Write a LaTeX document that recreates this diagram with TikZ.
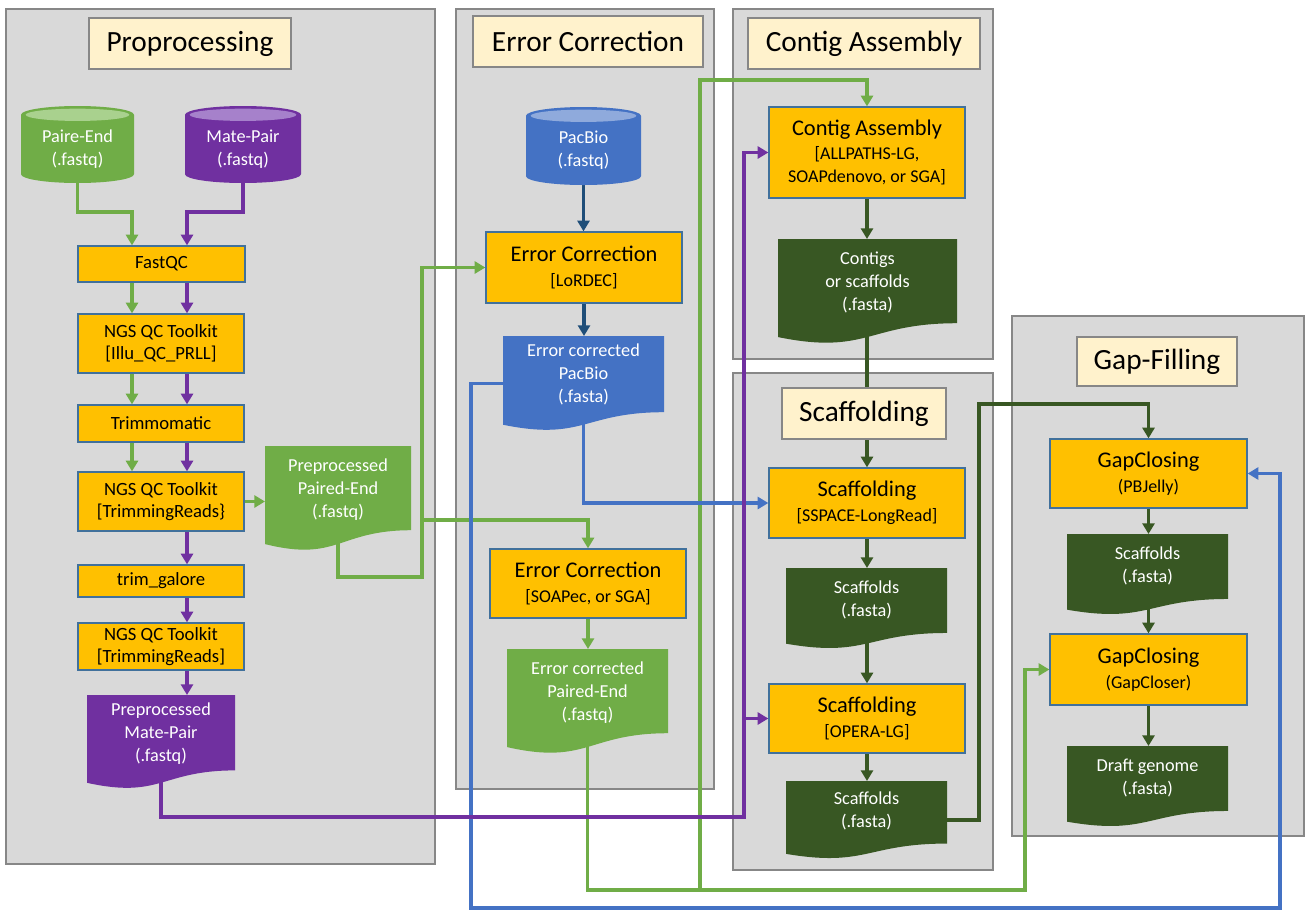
\documentclass[tikz,border=0pt]{standalone}
\usepackage{fontspec}
\setmainfont{Carlito}
\usetikzlibrary{arrows.meta,calc}
\definecolor{panelgray}{HTML}{D9D9D9}
\definecolor{panelline}{HTML}{878787}
\definecolor{titlefill}{HTML}{FFF2CC}
\definecolor{procfill}{HTML}{FFC000}
\definecolor{procline}{HTML}{41719C}
\definecolor{cgreen}{HTML}{70AD47}
\definecolor{cgreenl}{HTML}{A9D18E}
\definecolor{cpurple}{HTML}{7030A0}
\definecolor{cpurplel}{HTML}{A681CB}
\definecolor{cblue}{HTML}{4472C4}
\definecolor{cbluel}{HTML}{8FAADC}
\definecolor{cdblue}{HTML}{1F4E79}
\definecolor{cdgreen}{HTML}{385723}
\pgfdeclarelayer{panels}
\pgfdeclarelayer{wires}
\pgfdeclarelayer{shapes}
\pgfsetlayers{panels,wires,shapes,main}
\newcommand\docfill[2]{\fill[#2] let \p1=(#1.south west), \p2=(#1.north east) in
  (\x1,\y2) -- (\x2,\y2) -- (\x2,{(\y2)-0.802*((\y2)-(\y1))})
  .. controls ({0.5*((\x1)+(\x2))},{(\y2)-0.802*((\y2)-(\y1))}) and ({0.5*((\x1)+(\x2))},{(\y2)-1.1075*((\y2)-(\y1))})
  .. (\x1,{(\y2)-0.934*((\y2)-(\y1))}) -- cycle;}
\newcommand\cylfill[3]{\fill[#2] let \p1=(#1.south west), \p2=(#1.north east) in
  (\x1,{(\y2)-6.6pt}) -- (\x1,{(\y1)+6.6pt})
  arc[start angle=180,end angle=360,x radius={0.5*((\x2)-(\x1))},y radius=6.6pt]
  -- (\x2,{(\y2)-6.6pt})
  arc[start angle=0,end angle=180,x radius={0.5*((\x2)-(\x1))},y radius=6.6pt] -- cycle;
  \fill[#3] let \p1=(#1.south west), \p2=(#1.north east) in
  ({0.5*((\x1)+(\x2))},{(\y2)-6.6pt}) ellipse[x radius={0.5*((\x2)-(\x1))-3.5pt},y radius=4.6pt];}
\newcommand\LgTxt[1]{{\fontsize{16.8}{19}\selectfont #1}}
\begin{document}
\begin{tikzpicture}[x=0.75pt,y=-0.75pt,
  sz/.style 2 args={minimum width=#1*0.75pt,minimum height=#2*0.75pt},
  ttl/.style={fill=titlefill,draw=panelline,line width=1.5pt,inner sep=0pt,font=\fontsize{22}{26}\selectfont},
  proc/.style={fill=procfill,draw=procline,line width=1pt,inner sep=0pt,align=center,font=\fontsize{13.5}{19}\selectfont},
  pproc/.style={proc,font=\fontsize{14}{16.5}\selectfont},
  holder/.style={inner sep=0pt,outer sep=0pt},
  dtxt/.style={label={[text=white,align=center,font=\fontsize{13.7}{17.3}\selectfont,yshift=6.5pt]center:#1}},
  ctxt/.style={label={[text=white,align=center,font=\fontsize{13.7}{17.3}\selectfont,yshift=-3.4pt]center:#1}},
  panel/.style={fill=panelgray,draw=panelline,line width=1.5pt},
  wire/.style={line width=2.4pt,-{Triangle[width=9pt,length=8pt]}},
  gr/.style={draw=cgreen},
  pu/.style={draw=cpurple},
  bl/.style={draw=cblue},
  db/.style={draw=cdblue},
  dg/.style={draw=cdgreen}]
\useasboundingbox (0,0) rectangle (1306,911);
\begin{pgfonlayer}{panels}
\fill[white] (0,0) rectangle (1306,911);
\draw[panel] (6,9) rectangle (435,864);
\draw[panel] (456,9) rectangle (714,789);
\draw[panel] (733,9) rectangle (993,359);
\draw[panel] (733,373) rectangle (993,870);
\draw[panel] (1012,316) rectangle (1304,836);
\end{pgfonlayer}
% titles
\node[ttl,sz={202}{51}] (t1) at (190,43.5) {Proprocessing};
\node[ttl,sz={230}{51}] (t2) at (588,41.5) {Error Correction};
\node[ttl,sz={232}{51}] (t3) at (864,43.5) {Contig Assembly};
\node[ttl,sz={164}{51}] (t4) at (864,413.5) {Scaffolding};
\node[ttl,sz={160}{49}] (t5) at (1157,361.5) {Gap-Filling};
% inputs
\node[holder,sz={113}{77},ctxt={Paire-End\\(.fastq)}] (pe) at (77.5,144.5) {};
\node[holder,sz={116}{77},ctxt={Mate-Pair\\(.fastq)}] (mp) at (243,144.5) {};
\node[holder,sz={115}{78},ctxt={PacBio\\(.fastq)}] (pb) at (583.5,146) {};
% preprocessing
\node[pproc,sz={167}{36}] (fastqc) at (161.5,264) {FastQC};
\node[pproc,sz={166}{59}] (ngs1) at (161,343.5) {NGS QC Toolkit\\{}[Illu\_QC\_PRLL]};
\node[pproc,sz={166}{37}] (trimmo) at (161,423.5) {Trimmomatic};
\node[pproc,sz={166}{59}] (ngs2) at (161,501.5) {NGS QC Toolkit\\{}[TrimmingReads\}};
\node[pproc,sz={166}{32}] (trimg) at (161,581) {trim\_galore};
\node[pproc,sz={166}{47}] (ngs3) at (161,646.5) {NGS QC Toolkit\\{}[TrimmingReads]};
\node[holder,sz={148}{94},dtxt={Preprocessed\\Mate-Pair\\(.fastq)}] (ppmp) at (161,742) {};
\node[holder,sz={146}{105},dtxt={Preprocessed\\Paired-End\\(.fastq)}] (pppe) at (338,498.5) {};
% error correction
\node[proc,sz={196}{71}] (lordec) at (584,267.5) {\LgTxt{Error Correction}\\{}[LoRDEC]};
\node[holder,sz={161}{95},dtxt={Error corrected\\PacBio\\(.fasta)}] (ecpb) at (583.5,383.5) {};
\node[proc,sz={196}{69}] (soapec) at (588,583.5) {\LgTxt{Error Correction}\\{}[SOAPec, or SGA]};
\node[holder,sz={161}{105},dtxt={Error corrected\\Paired-End\\(.fastq)}] (ecpe) at (587.5,701.5) {};
% contig assembly
\node[proc,sz={196}{91},font=\fontsize{13.5}{17.3}\selectfont] (contigasm) at (867,152.5) {\LgTxt{Contig Assembly}\\{}[ALLPATHS-LG,\\SOAPdenovo, or SGA]};
\node[holder,sz={179}{105},dtxt={Contigs\\or scaffolds\\(.fasta)}] (contigs) at (867.5,291.5) {};
% scaffolding
\node[proc,sz={196}{70}] (sspace) at (867,503) {\LgTxt{Scaffolding}\\{}[SSPACE-LongRead]};
\node[holder,sz={161}{81},dtxt={Scaffolds\\(.fasta)}] (scaf1) at (866.5,608.5) {};
\node[proc,sz={196}{69}] (opera) at (867,718.5) {\LgTxt{Scaffolding}\\{}[OPERA-LG]};
\node[holder,sz={161}{78},dtxt={Scaffolds\\(.fasta)}] (scaf2) at (866.5,820) {};
% gap filling
\node[proc,sz={197}{69}] (pbjelly) at (1148.5,473.5) {\LgTxt{GapClosing}\\(PBJelly)};
\node[holder,sz={161}{81},dtxt={Scaffolds\\(.fasta)}] (scaf3) at (1147.5,574.5) {};
\node[proc,sz={197}{71}] (gapcloser) at (1148.5,669.5) {\LgTxt{GapClosing}\\(GapCloser)};
\node[holder,sz={161}{81},dtxt={Draft genome\\(.fasta)}] (draft) at (1147.5,786.5) {};
% shapes
\begin{pgfonlayer}{shapes}
\cylfill{pe}{cgreen}{cgreenl}
\cylfill{mp}{cpurple}{cpurplel}
\cylfill{pb}{cblue}{cbluel}
\docfill{ppmp}{cpurple}
\docfill{pppe}{cgreen}
\docfill{ecpb}{cblue}
\docfill{ecpe}{cgreen}
\docfill{contigs}{cdgreen}
\docfill{scaf1}{cdgreen}
\docfill{scaf2}{cdgreen}
\docfill{scaf3}{cdgreen}
\docfill{draft}{cdgreen}
\end{pgfonlayer}
% connectors
\begin{pgfonlayer}{wires}
\coordinate (g1) at (132,212);
\coordinate (p1) at (187,212);
\draw[wire,gr] (pe.center) |- (g1) -- (g1 |- fastqc.north);
\draw[wire,pu] (mp.center) |- (p1) -- (p1 |- fastqc.north);
\foreach \a/\b in {fastqc/ngs1,ngs1/trimmo,trimmo/ngs2}{
  \draw[wire,gr] (g1 |- \a.south) -- (g1 |- \b.north);
  \draw[wire,pu] (p1 |- \a.south) -- (p1 |- \b.north);}
\foreach \a/\b in {ngs2/trimg,trimg/ngs3,ngs3/ppmp}{
  \draw[wire,pu] (p1 |- \a.south) -- (p1 |- \b.north);}
\draw[wire,gr] (ngs2.east) -- (ngs2.east -| pppe.west);
\coordinate (g2) at (422,577);
\coordinate (g3) at (422,520);
\draw[wire,gr] (pppe.center) |- (g2) |- (lordec.west);
\draw[wire,gr] (g3) -| (soapec.north);
\draw[wire,gr] (soapec.south) -- (soapec.south |- ecpe.north);
\coordinate (g4) at (1025,890);
\coordinate (g5) at (700,890);
\coordinate (g6) at (700,80);
\draw[wire,gr] (ecpe.center) |- (g4) |- (gapcloser.west);
\draw[wire,gr] (g5) -- (g6) -| (contigasm.north);
% blue
\draw[wire,db] (pb.south) -- (pb.south |- lordec.north);
\draw[wire,db] (lordec.south) -- (lordec.south |- ecpb.north);
\draw[wire,bl] (ecpb.center) |- (sspace.west);
\coordinate (b1) at (471,908);
\coordinate (b2) at (1280,908);
\draw[wire,bl] (ecpb.west) -| (b1) -- (b2) |- (pbjelly.east);
% purple
\coordinate (p2) at (744,817);
\coordinate (p3) at (744,718.5);
\draw[wire,pu] (ppmp.center) |- (p2) |- (contigasm.west);
\draw[wire,pu] (p3) -- (opera.west);
% dark green
\draw[wire,dg] (contigasm.south) -- (contigasm.south |- contigs.north);
\draw[wire,dg] (sspace.north |- contigs.center) -- (sspace.north);
\draw[wire,dg] (sspace.south) -- (sspace.south |- scaf1.north);
\draw[wire,dg] (opera.north |- scaf1.center) -- (opera.north);
\draw[wire,dg] (opera.south) -- (opera.south |- scaf2.north);
\coordinate (d1) at (979,404);
\draw[wire,dg] (scaf2.east) -| (d1) -| (pbjelly.north);
\draw[wire,dg] (pbjelly.south) -- (pbjelly.south |- scaf3.north);
\draw[wire,dg] (gapcloser.north |- scaf3.center) -- (gapcloser.north);
\draw[wire,dg] (gapcloser.south) -- (gapcloser.south |- draft.north);
\end{pgfonlayer}
\end{tikzpicture}
\end{document}
